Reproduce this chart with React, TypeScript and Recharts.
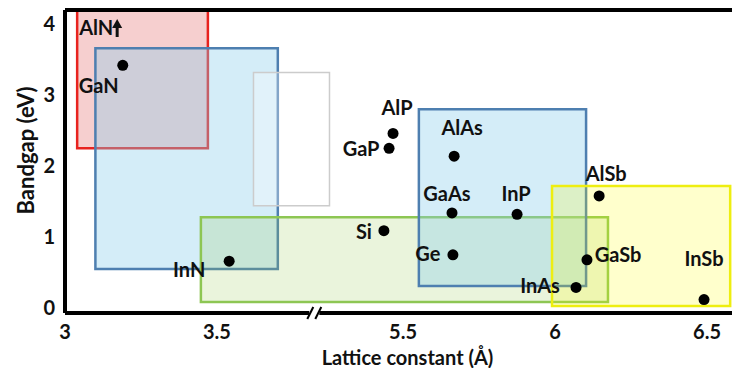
import { ScatterChart, Scatter, XAxis, YAxis, ReferenceArea, ReferenceLine, ReferenceDot } from 'recharts';

// semiconductors: lattice constant (Å) and bandgap (eV)
const MATERIALS = ['GaN', 'InN', 'AlP', 'GaP', 'AlAs', 'GaAs', 'InP', 'Si', 'Ge', 'AlSb', 'GaSb', 'InAs', 'InSb'];
const LATTICE = [3.19, 3.54, 5.467, 5.454, 5.668, 5.661, 5.875, 5.437, 5.664, 6.145, 6.105, 6.069, 6.49];
const BANDGAP = [3.42, 0.66, 2.46, 2.25, 2.14, 1.34, 1.32, 1.09, 0.75, 1.58, 0.68, 0.29, 0.12];

const X_TICKS = [3, 3.5, 5.5, 6, 6.5];
const Y_TICKS = [0, 1, 2, 3, 4];

// shaded regions: [x1, x2, y1, y2]
const NITRIDE_BOX = [3.04, 3.47, 2.25, 4.2];
const NITRIDE_ALLOY_BOX = [3.1, 3.7, 0.55, 3.66];
const GHOST_BOX = [3.62, 3.87, 1.44, 3.32];
const GROUP_IV_BOX = [3.447, 6.174, 0.085, 1.28];
const ARSENIDE_BOX = [5.552, 6.102, 0.31, 2.8];
const ANTIMONIDE_BOX = [5.99, 6.576, 0.03, 1.72];

// broken axis: values past the gap are shifted left
const GAP_START = 3.82;
const SHIFT = 1.388;
const toAxis = (v: number) => (v > 4.5 ? v - SHIFT : v);
const fromAxis = (v: number) => (v > GAP_START ? v + SHIFT : v);

const X_DOMAIN = [3, 5.194];
const Y_DOMAIN = [-0.07, 4.2];

const FONT = 'Lato, "Noto Sans", sans-serif';

const LABEL_OFFSET: Record<string, [number, number]> = {
  GaN: [-24, 20],
  InN: [-40, 8],
  AlP: [4, -26],
  GaP: [-28, 0],
  AlAs: [8, -29],
  GaAs: [-5, -20],
  InP: [-1, -21],
  Si: [-20, 0],
  Ge: [-25, -2],
  AlSb: [7, -23],
  GaSb: [31, -6],
  InAs: [-36, -2],
  InSb: [0, -42],
};

const points = MATERIALS.map((name, i) => ({ name, x: toAxis(LATTICE[i]), y: BANDGAP[i] }));

const renderPoint = (props: any) => {
  const { cx, cy, payload } = props;
  const [dx, dy] = LABEL_OFFSET[payload.name] || [0, -20];
  return (
    <g>
      <circle cx={cx} cy={cy} r={5.5} fill="#000" />
      <text
        x={cx + dx}
        y={cy + dy}
        textAnchor="middle"
        dominantBaseline="central"
        fontFamily={FONT}
        fontWeight={700}
        fontSize={20}
        fill="#111"
      >
        {payload.name}
      </text>
    </g>
  );
};

const AlnLabel = (props: any) => {
  const { x, y } = props.viewBox;
  return (
    <g>
      <text x={x + 2} y={y + 17} dominantBaseline="central" fontFamily={FONT} fontWeight={700} fontSize={20} fill="#111">
        AlN
      </text>
      <line x1={x + 40} y1={y + 16} x2={x + 40} y2={y + 27} stroke="#111" strokeWidth={3} />
      <path d={`M${x + 35},${y + 18} L${x + 40},${y + 9} L${x + 45},${y + 18} Z`} fill="#111" />
    </g>
  );
};

const BreakMark = (props: any) => {
  const { cx, cy } = props;
  return (
    <g>
      <rect x={cx - 5} y={cy - 4} width={10} height={8} fill="#fff" />
      <line x1={cx - 7} y1={cy + 6} x2={cx - 1} y2={cy - 6} stroke="#000" strokeWidth={2} />
      <line x1={cx + 1} y1={cy + 6} x2={cx + 7} y2={cy - 6} stroke="#000" strokeWidth={2} />
    </g>
  );
};

const XTitle = (props: any) => {
  const { x, y, width } = props.viewBox;
  return (
    <text x={x + width / 2 + 9} y={y + 44} textAnchor="middle" dominantBaseline="central" fontFamily={FONT} fontWeight={700} fontSize={20} fill="#111">
      Lattice constant (Å)
    </text>
  );
};

const YTitle = (props: any) => {
  const { y, height } = props.viewBox;
  const cy = y + height / 2 - 11;
  return (
    <text x={25} y={cy} transform={`rotate(-90, 25, ${cy})`} textAnchor="middle" dominantBaseline="central" fontFamily={FONT} fontWeight={700} fontSize={22} fill="#111">
      Bandgap (eV)
    </text>
  );
};

const box = (b: number[], fill: string, fillOpacity: number, stroke: string, strokeWidth = 2.5, label?: any) => (
  <ReferenceArea
    x1={toAxis(b[0])}
    x2={toAxis(b[1])}
    y1={b[2]}
    y2={b[3]}
    fill={fill}
    fillOpacity={fillOpacity}
    stroke={stroke}
    strokeWidth={strokeWidth}
    ifOverflow="visible"
    label={label}
  />
);

const tickStyle = { fontFamily: FONT, fontWeight: 700, fontSize: 20, fill: '#111' };

export default function App() {
  return (
    <div style={{ position: 'absolute', left: 0, top: 0, background: '#fff' }}>
      <ScatterChart width={732} height={368} margin={{ top: 10, right: 0, bottom: 0, left: 0 }}>
        <XAxis
          type="number"
          dataKey="x"
          domain={X_DOMAIN}
          ticks={X_TICKS.map(toAxis)}
          tickFormatter={(v: number) => String(Math.round(fromAxis(v) * 10) / 10)}
          allowDataOverflow
          height={55}
          tickLine={false}
          tickMargin={6}
          axisLine={{ stroke: '#000', strokeWidth: 4 }}
          tick={tickStyle}
          label={<XTitle />}
        />
        <YAxis
          type="number"
          dataKey="y"
          domain={Y_DOMAIN}
          ticks={Y_TICKS}
          allowDataOverflow
          width={65}
          tickLine={false}
          tickMargin={4}
          axisLine={{ stroke: '#000', strokeWidth: 4 }}
          tick={tickStyle}
          label={<YTitle />}
        />
        {box(NITRIDE_BOX, '#e06060', 0.3, '#e8231f', 2.5, <AlnLabel />)}
        {box(NITRIDE_ALLOY_BOX, '#87ceeb', 0.36, '#4e7fb0')}
        {box(GHOST_BOX, '#ffffff', 0.3, '#cccccc', 1.5)}
        {box(GROUP_IV_BOX, '#96c850', 0.2, '#8dc653')}
        {box(ARSENIDE_BOX, '#87ceeb', 0.36, '#4e7fb0')}
        {box(ANTIMONIDE_BOX, '#ffff00', 0.2, '#eeee10')}
        <ReferenceLine y={Y_DOMAIN[1]} stroke="#000" strokeWidth={4} ifOverflow="visible" />
        <ReferenceDot x={GAP_START} y={Y_DOMAIN[0]} ifOverflow="visible" shape={<BreakMark />} />
        <Scatter data={points} isAnimationActive={false} shape={renderPoint} />
      </ScatterChart>
    </div>
  );
}
